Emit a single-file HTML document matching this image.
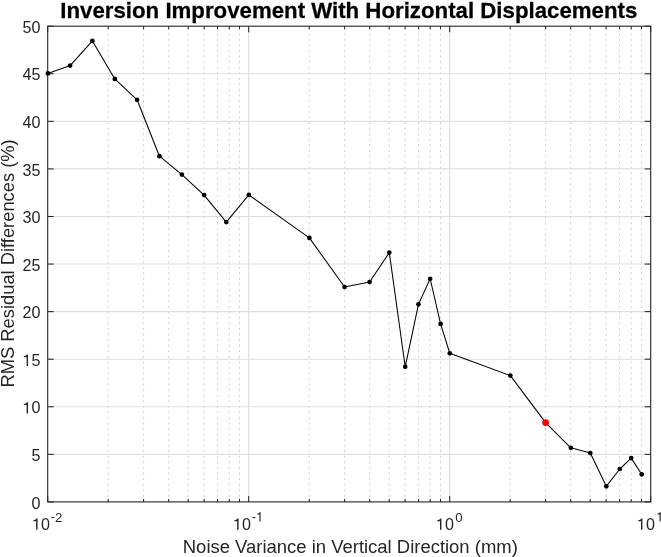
<!DOCTYPE html>
<html><head><meta charset="utf-8"><title>Inversion Improvement With Horizontal Displacements</title>
<style>html,body{margin:0;padding:0;background:#fff;}svg{display:block;will-change:transform}text{font-family:"Liberation Sans",sans-serif;fill:#262626}</style></head>
<body>
<svg width="661" height="557" viewBox="0 0 661 557">
<rect x="0" y="0" width="661" height="557" fill="#ffffff"/>
<defs><path id="one" d="M696 0H515V1085H160V1215Q470 1228 548 1440H696Z"/></defs>
<g stroke="#c8c8c8" stroke-width="0.85" stroke-dasharray="2 3.56" fill="none">
<line x1="108.21" y1="502.30" x2="108.21" y2="26.20"/>
<line x1="143.60" y1="502.30" x2="143.60" y2="26.20"/>
<line x1="168.71" y1="502.30" x2="168.71" y2="26.20"/>
<line x1="188.19" y1="502.30" x2="188.19" y2="26.20"/>
<line x1="204.11" y1="502.30" x2="204.11" y2="26.20"/>
<line x1="217.56" y1="502.30" x2="217.56" y2="26.20"/>
<line x1="229.22" y1="502.30" x2="229.22" y2="26.20"/>
<line x1="239.50" y1="502.30" x2="239.50" y2="26.20"/>
<line x1="309.21" y1="502.30" x2="309.21" y2="26.20"/>
<line x1="344.60" y1="502.30" x2="344.60" y2="26.20"/>
<line x1="369.71" y1="502.30" x2="369.71" y2="26.20"/>
<line x1="389.19" y1="502.30" x2="389.19" y2="26.20"/>
<line x1="405.11" y1="502.30" x2="405.11" y2="26.20"/>
<line x1="418.56" y1="502.30" x2="418.56" y2="26.20"/>
<line x1="430.22" y1="502.30" x2="430.22" y2="26.20"/>
<line x1="440.50" y1="502.30" x2="440.50" y2="26.20"/>
<line x1="510.21" y1="502.30" x2="510.21" y2="26.20"/>
<line x1="545.60" y1="502.30" x2="545.60" y2="26.20"/>
<line x1="570.71" y1="502.30" x2="570.71" y2="26.20"/>
<line x1="590.19" y1="502.30" x2="590.19" y2="26.20"/>
<line x1="606.11" y1="502.30" x2="606.11" y2="26.20"/>
<line x1="619.56" y1="502.30" x2="619.56" y2="26.20"/>
<line x1="631.22" y1="502.30" x2="631.22" y2="26.20"/>
<line x1="641.50" y1="502.30" x2="641.50" y2="26.20"/>
</g>
<g stroke="#dfdfdf" stroke-width="1.1" fill="none">
<line x1="47.70" y1="454.33" x2="650.70" y2="454.33"/>
<line x1="47.70" y1="406.76" x2="650.70" y2="406.76"/>
<line x1="47.70" y1="359.19" x2="650.70" y2="359.19"/>
<line x1="47.70" y1="311.62" x2="650.70" y2="311.62"/>
<line x1="47.70" y1="264.05" x2="650.70" y2="264.05"/>
<line x1="47.70" y1="216.48" x2="650.70" y2="216.48"/>
<line x1="47.70" y1="168.91" x2="650.70" y2="168.91"/>
<line x1="47.70" y1="121.34" x2="650.70" y2="121.34"/>
<line x1="47.70" y1="73.77" x2="650.70" y2="73.77"/>
<line x1="248.70" y1="26.20" x2="248.70" y2="501.90"/>
<line x1="449.70" y1="26.20" x2="449.70" y2="501.90"/>
</g>
<g stroke="#262626" stroke-width="1.05" fill="none">
<line x1="47.70" y1="501.90" x2="53.70" y2="501.90"/>
<line x1="650.70" y1="501.90" x2="644.70" y2="501.90"/>
<line x1="47.70" y1="454.33" x2="53.70" y2="454.33"/>
<line x1="650.70" y1="454.33" x2="644.70" y2="454.33"/>
<line x1="47.70" y1="406.76" x2="53.70" y2="406.76"/>
<line x1="650.70" y1="406.76" x2="644.70" y2="406.76"/>
<line x1="47.70" y1="359.19" x2="53.70" y2="359.19"/>
<line x1="650.70" y1="359.19" x2="644.70" y2="359.19"/>
<line x1="47.70" y1="311.62" x2="53.70" y2="311.62"/>
<line x1="650.70" y1="311.62" x2="644.70" y2="311.62"/>
<line x1="47.70" y1="264.05" x2="53.70" y2="264.05"/>
<line x1="650.70" y1="264.05" x2="644.70" y2="264.05"/>
<line x1="47.70" y1="216.48" x2="53.70" y2="216.48"/>
<line x1="650.70" y1="216.48" x2="644.70" y2="216.48"/>
<line x1="47.70" y1="168.91" x2="53.70" y2="168.91"/>
<line x1="650.70" y1="168.91" x2="644.70" y2="168.91"/>
<line x1="47.70" y1="121.34" x2="53.70" y2="121.34"/>
<line x1="650.70" y1="121.34" x2="644.70" y2="121.34"/>
<line x1="47.70" y1="73.77" x2="53.70" y2="73.77"/>
<line x1="650.70" y1="73.77" x2="644.70" y2="73.77"/>
<line x1="47.70" y1="26.20" x2="53.70" y2="26.20"/>
<line x1="650.70" y1="26.20" x2="644.70" y2="26.20"/>
<line x1="47.70" y1="501.90" x2="47.70" y2="495.90"/>
<line x1="47.70" y1="26.20" x2="47.70" y2="32.20"/>
<line x1="248.70" y1="501.90" x2="248.70" y2="495.90"/>
<line x1="248.70" y1="26.20" x2="248.70" y2="32.20"/>
<line x1="449.70" y1="501.90" x2="449.70" y2="495.90"/>
<line x1="449.70" y1="26.20" x2="449.70" y2="32.20"/>
<line x1="650.70" y1="501.90" x2="650.70" y2="495.90"/>
<line x1="650.70" y1="26.20" x2="650.70" y2="32.20"/>
<line x1="108.21" y1="501.90" x2="108.21" y2="498.90"/>
<line x1="108.21" y1="26.20" x2="108.21" y2="29.20"/>
<line x1="143.60" y1="501.90" x2="143.60" y2="498.90"/>
<line x1="143.60" y1="26.20" x2="143.60" y2="29.20"/>
<line x1="168.71" y1="501.90" x2="168.71" y2="498.90"/>
<line x1="168.71" y1="26.20" x2="168.71" y2="29.20"/>
<line x1="188.19" y1="501.90" x2="188.19" y2="498.90"/>
<line x1="188.19" y1="26.20" x2="188.19" y2="29.20"/>
<line x1="204.11" y1="501.90" x2="204.11" y2="498.90"/>
<line x1="204.11" y1="26.20" x2="204.11" y2="29.20"/>
<line x1="217.56" y1="501.90" x2="217.56" y2="498.90"/>
<line x1="217.56" y1="26.20" x2="217.56" y2="29.20"/>
<line x1="229.22" y1="501.90" x2="229.22" y2="498.90"/>
<line x1="229.22" y1="26.20" x2="229.22" y2="29.20"/>
<line x1="239.50" y1="501.90" x2="239.50" y2="498.90"/>
<line x1="239.50" y1="26.20" x2="239.50" y2="29.20"/>
<line x1="309.21" y1="501.90" x2="309.21" y2="498.90"/>
<line x1="309.21" y1="26.20" x2="309.21" y2="29.20"/>
<line x1="344.60" y1="501.90" x2="344.60" y2="498.90"/>
<line x1="344.60" y1="26.20" x2="344.60" y2="29.20"/>
<line x1="369.71" y1="501.90" x2="369.71" y2="498.90"/>
<line x1="369.71" y1="26.20" x2="369.71" y2="29.20"/>
<line x1="389.19" y1="501.90" x2="389.19" y2="498.90"/>
<line x1="389.19" y1="26.20" x2="389.19" y2="29.20"/>
<line x1="405.11" y1="501.90" x2="405.11" y2="498.90"/>
<line x1="405.11" y1="26.20" x2="405.11" y2="29.20"/>
<line x1="418.56" y1="501.90" x2="418.56" y2="498.90"/>
<line x1="418.56" y1="26.20" x2="418.56" y2="29.20"/>
<line x1="430.22" y1="501.90" x2="430.22" y2="498.90"/>
<line x1="430.22" y1="26.20" x2="430.22" y2="29.20"/>
<line x1="440.50" y1="501.90" x2="440.50" y2="498.90"/>
<line x1="440.50" y1="26.20" x2="440.50" y2="29.20"/>
<line x1="510.21" y1="501.90" x2="510.21" y2="498.90"/>
<line x1="510.21" y1="26.20" x2="510.21" y2="29.20"/>
<line x1="545.60" y1="501.90" x2="545.60" y2="498.90"/>
<line x1="545.60" y1="26.20" x2="545.60" y2="29.20"/>
<line x1="570.71" y1="501.90" x2="570.71" y2="498.90"/>
<line x1="570.71" y1="26.20" x2="570.71" y2="29.20"/>
<line x1="590.19" y1="501.90" x2="590.19" y2="498.90"/>
<line x1="590.19" y1="26.20" x2="590.19" y2="29.20"/>
<line x1="606.11" y1="501.90" x2="606.11" y2="498.90"/>
<line x1="606.11" y1="26.20" x2="606.11" y2="29.20"/>
<line x1="619.56" y1="501.90" x2="619.56" y2="498.90"/>
<line x1="619.56" y1="26.20" x2="619.56" y2="29.20"/>
<line x1="631.22" y1="501.90" x2="631.22" y2="498.90"/>
<line x1="631.22" y1="26.20" x2="631.22" y2="29.20"/>
<line x1="641.50" y1="501.90" x2="641.50" y2="498.90"/>
<line x1="641.50" y1="26.20" x2="641.50" y2="29.20"/>
</g>
<rect x="47.70" y="26.20" width="603.00" height="475.70" fill="none" stroke="#262626" stroke-width="1.1"/>
<polyline fill="none" stroke="#000" stroke-width="1.05" stroke-linejoin="round" points="47.90,73.40 70.15,65.60 92.40,40.90 114.80,78.90 137.10,99.80 159.45,156.20 181.90,174.60 204.10,195.10 226.30,222.10 248.80,194.90 309.40,237.90 344.60,287.00 369.60,282.00 389.30,252.60 405.20,366.80 418.45,304.35 430.15,278.75 440.60,323.90 449.80,353.30 510.35,375.60 545.60,422.60 570.80,447.80 590.30,453.10 606.30,486.30 619.80,469.00 631.20,458.10 641.70,474.30"/>
<g fill="#000">
<circle cx="47.90" cy="73.40" r="2.35"/>
<circle cx="70.15" cy="65.60" r="2.35"/>
<circle cx="92.40" cy="40.90" r="2.35"/>
<circle cx="114.80" cy="78.90" r="2.35"/>
<circle cx="137.10" cy="99.80" r="2.35"/>
<circle cx="159.45" cy="156.20" r="2.35"/>
<circle cx="181.90" cy="174.60" r="2.35"/>
<circle cx="204.10" cy="195.10" r="2.35"/>
<circle cx="226.30" cy="222.10" r="2.35"/>
<circle cx="248.80" cy="194.90" r="2.35"/>
<circle cx="309.40" cy="237.90" r="2.35"/>
<circle cx="344.60" cy="287.00" r="2.35"/>
<circle cx="369.60" cy="282.00" r="2.35"/>
<circle cx="389.30" cy="252.60" r="2.35"/>
<circle cx="405.20" cy="366.80" r="2.35"/>
<circle cx="418.45" cy="304.35" r="2.35"/>
<circle cx="430.15" cy="278.75" r="2.35"/>
<circle cx="440.60" cy="323.90" r="2.35"/>
<circle cx="449.80" cy="353.30" r="2.35"/>
<circle cx="510.35" cy="375.60" r="2.35"/>
<circle cx="570.80" cy="447.80" r="2.35"/>
<circle cx="590.30" cy="453.10" r="2.35"/>
<circle cx="606.30" cy="486.30" r="2.35"/>
<circle cx="619.80" cy="469.00" r="2.35"/>
<circle cx="631.20" cy="458.10" r="2.35"/>
<circle cx="641.70" cy="474.30" r="2.35"/>
</g>
<circle cx="545.60" cy="422.60" r="3.4" fill="#ff0000"/>
<g font-size="16.1px" text-anchor="end">
<text x="40.5" y="508.60">0</text>
<text x="40.5" y="461.03">5</text>
<text x="40.5" y="413.46">0</text>
<use href="#one" fill="#262626" transform="translate(22.59,413.46) scale(0.007861,-0.007861)"/>
<text x="40.5" y="365.89">5</text>
<use href="#one" fill="#262626" transform="translate(22.59,365.89) scale(0.007861,-0.007861)"/>
<text x="40.5" y="318.32">20</text>
<text x="40.5" y="270.75">25</text>
<text x="40.5" y="223.18">30</text>
<text x="40.5" y="175.61">35</text>
<text x="40.5" y="128.04">40</text>
<text x="40.5" y="80.47">45</text>
<text x="40.5" y="32.90">50</text>
</g>
<g font-size="16.1px">
<use href="#one" fill="#262626" transform="translate(32.10,529.80) scale(0.007861,-0.007861)"/>
<text x="41.05" y="529.8">0</text>
<text x="50.70" y="520.5" font-size="13.2px">-</text>
<text x="55.10" y="521.6" font-size="13.2px">2</text>
<use href="#one" fill="#262626" transform="translate(233.10,529.80) scale(0.007861,-0.007861)"/>
<text x="242.05" y="529.8">0</text>
<text x="251.70" y="520.5" font-size="13.2px">-</text>
<use href="#one" fill="#262626" transform="translate(256.10,521.60) scale(0.006445,-0.006445)"/>
<use href="#one" fill="#262626" transform="translate(435.95,529.80) scale(0.007861,-0.007861)"/>
<text x="444.90" y="529.8">0</text>
<text x="455.25" y="521.6" font-size="13.2px">0</text>
<use href="#one" fill="#262626" transform="translate(636.95,529.80) scale(0.007861,-0.007861)"/>
<text x="645.90" y="529.8">0</text>
<use href="#one" fill="#262626" transform="translate(656.25,521.60) scale(0.006445,-0.006445)"/>
</g>
<text id="title" transform="translate(348.8,17.7) scale(1,1.03)" font-size="22.25px" font-weight="bold" stroke="#000" stroke-width="0.25" text-anchor="middle" fill="#000" style="fill:#000">Inversion Improvement With Horizontal Displacements</text>
<text id="xlabel" x="350.3" y="553.0" font-size="18.47px" text-anchor="middle">Noise Variance in Vertical Direction (mm)</text>
<text id="ylabel" transform="translate(14.2,263.4) rotate(-90)" font-size="18.33px" text-anchor="middle">RMS Residual Differences (%)</text>
</svg>
</body></html>
